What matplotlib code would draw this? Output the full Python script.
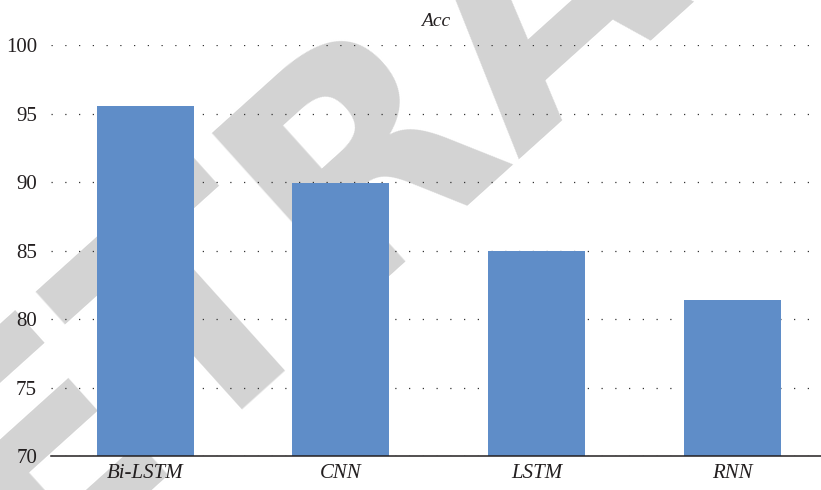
import matplotlib
matplotlib.use("Agg")
import matplotlib.pyplot as plt
import numpy as np

models = ["Bi-LSTM", "CNN", "LSTM", "RNN"]
acc = [95.55, 89.9, 85.0, 81.4]
yticks = [70, 75, 80, 85, 90, 95, 100]

plt.rcParams['font.family'] = ['Liberation Serif', 'DejaVu Serif']

fig = plt.figure(figsize=(8.21, 4.90), dpi=100)
ax = fig.add_axes([51 / 821, 1 - 456 / 490, 1 - 51 / 821, (456 - 45) / 490])
ax.patch.set_alpha(0)

# watermark, behind the bars
ax.text(0.665, 1.01, "RETRACTED", transform=fig.transFigure, fontsize=222,
        fontweight='bold', family='DejaVu Sans', color='#d3d3d3', rotation=42,
        ha='center', va='center', zorder=0.1, clip_on=False)

x = np.arange(len(models))
ax.bar(x, acc, width=0.495, color='#5f8dc8', zorder=2)

ax.set_ylim(70, 100)
ax.set_xlim(-0.48, 3.45)
ax.set_yticks(yticks)
ax.set_xticks(x)
ax.set_xticklabels(models, fontstyle='italic')
ax.tick_params(axis='both', length=0, labelsize=15, colors='#231f20')
ax.tick_params(axis='y', pad=10)
ax.tick_params(axis='x', pad=6)

ax.grid(axis='y', linestyle=(0, (1, 10)), linewidth=0.9, color='#333333', zorder=0.5)
ax.set_axisbelow(True)
for s in ['top', 'right', 'left']:
    ax.spines[s].set_visible(False)
ax.spines['bottom'].set_linewidth(1.1)
ax.spines['bottom'].set_color('#231f20')
ax.spines['bottom'].set_zorder(3)

ax.set_title("Acc", fontstyle='italic', fontsize=14, color='#231f20', pad=14)

fig.savefig("out.png", dpi=100)
